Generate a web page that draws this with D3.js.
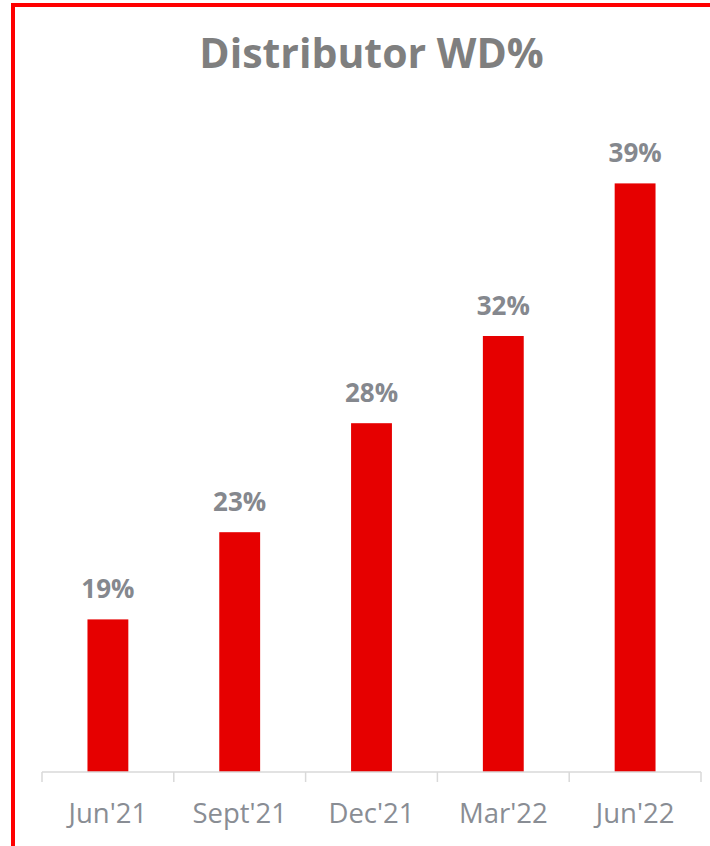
<!DOCTYPE html>
<html>
<head>
<meta charset="utf-8">
<script src="https://cdn.jsdelivr.net/npm/d3@7"></script>
<style>
  html, body { margin: 0; padding: 0; background: #fff; }
  svg { display: block; }
</style>
</head>
<body>
<script>
const categories = ["Jun'21", "Sept'21", "Dec'21", "Mar'22", "Jun'22"];
const values = [19, 23, 28, 32, 39];
const title = "Distributor WD%";

const W = 710, H = 846;
const svg = d3.select("body").append("svg").attr("width", W).attr("height", H);

// frame (red border, left & top visible)
svg.append("rect")
  .attr("x", 13).attr("y", 5)
  .attr("width", W + 20).attr("height", H + 20)
  .attr("fill", "none").attr("stroke", "#ff0000").attr("stroke-width", 4);

const plot = { left: 42, right: 701, top: 161.6, bottom: 772 };

const x = d3.scaleBand().domain(categories).range([plot.left, plot.right]).paddingInner(0.69).paddingOuter(0.345);
const y = d3.scaleLinear().domain([12, 40]).range([plot.bottom, plot.top]);

// title
svg.append("text")
  .attr("x", (plot.left + plot.right) / 2).attr("y", 68)
  .attr("text-anchor", "middle")
  .attr("font-family", "'Open Sans', sans-serif")
  .attr("font-weight", "bold").attr("font-size", 41)
  .attr("fill", "#7f7f7f")
  .text(title);

// bars
svg.append("g").selectAll("rect").data(values).join("rect")
  .attr("x", (d, i) => x(categories[i]))
  .attr("width", x.bandwidth())
  .attr("y", d => y(d))
  .attr("height", d => plot.bottom - y(d))
  .attr("fill", "#e60000");

// value labels
svg.append("g").selectAll("text").data(values).join("text")
  .attr("x", (d, i) => x(categories[i]) + x.bandwidth() / 2)
  .attr("y", d => y(d) - 21)
  .attr("text-anchor", "middle")
  .attr("font-family", "'Open Sans', sans-serif")
  .attr("font-weight", "bold").attr("font-size", 26)
  .attr("fill", "#85888e")
  .text(d => d + "%");

// x axis
const xAxis = svg.append("g").attr("transform", `translate(0,${plot.bottom})`);
xAxis.append("line")
  .attr("x1", plot.left).attr("x2", plot.right)
  .attr("y1", 0).attr("y2", 0)
  .attr("stroke", "#d9d9d9").attr("stroke-width", 1.5);
const boundaries = categories.map(c => x(c) - x.step() * x.paddingInner() / 2).concat([plot.right]);
boundaries[0] = plot.left;
xAxis.selectAll("line.tick").data(boundaries).join("line").attr("class", "tick")
  .attr("x1", d => d).attr("x2", d => d)
  .attr("y1", 0).attr("y2", 10)
  .attr("stroke", "#d9d9d9").attr("stroke-width", 1.5);
xAxis.selectAll("text").data(categories).join("text")
  .attr("x", d => x(d) + x.bandwidth() / 2)
  .attr("y", 51)
  .attr("text-anchor", "middle")
  .attr("font-family", "'Open Sans', sans-serif")
  .attr("font-size", 27.5)
  .attr("fill", "#898d94")
  .text(d => d);
</script>
</body>
</html>
